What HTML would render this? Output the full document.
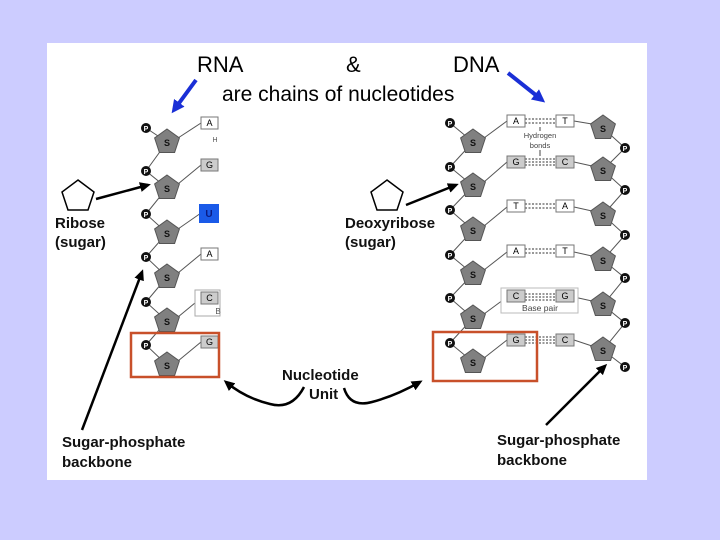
<!DOCTYPE html>
<html><head><style>
html,body{margin:0;padding:0;background:#ccccff;width:720px;height:540px;overflow:hidden}
svg{display:block}
text{font-family:"Liberation Sans",Arial,sans-serif}
</style></head><body>
<svg width="720" height="540" viewBox="0 0 720 540" xmlns="http://www.w3.org/2000/svg">
<defs>
<marker id="ab" markerWidth="11" markerHeight="10" refX="8" refY="5" orient="auto" markerUnits="userSpaceOnUse"><path d="M0,0 L11,5 L0,10 Z" fill="#000"/></marker>
<marker id="abl" markerWidth="13" markerHeight="13" refX="9" refY="6.5" orient="auto" markerUnits="userSpaceOnUse"><path d="M0,0 L13,6.5 L0,13 Z" fill="#1a2fd6"/></marker>
<g id="sg"><polygon points="0,-13 12.4,-4 7.6,10.5 -7.6,10.5 -12.4,-4" fill="#808080" stroke="#555" stroke-width="1"/><text x="0" y="4" font-size="9" font-weight="bold" text-anchor="middle" fill="#111">S</text></g>
<g id="ph"><circle r="5" fill="#111"/><text x="0" y="3" font-size="7" font-weight="bold" text-anchor="middle" fill="#fff">P</text></g>
</defs>
<rect x="47" y="43" width="600" height="437" fill="#fff"/>

<text x="197" y="72" font-size="22">RNA</text>
<text x="346" y="72" font-size="22">&amp;</text>
<text x="453" y="72" font-size="22">DNA</text>
<text x="222" y="101" font-size="21">are chains of nucleotides</text>
<line x1="196" y1="80" x2="174" y2="110" stroke="#1a2fd6" stroke-width="4" marker-end="url(#abl)"/>
<line x1="508" y1="73" x2="542" y2="100" stroke="#1a2fd6" stroke-width="4" marker-end="url(#abl)"/>

<!-- RNA chain -->
<g stroke="#555" stroke-width="1" fill="none">
<polyline points="146,128 167,142 146,171 167,188 146,214 167,233 146,257 167,277 146,302 167,321 146,345 167,365"/>
<line x1="178" y1="138" x2="201" y2="123"/><line x1="178" y1="184" x2="201" y2="165"/>
<line x1="178" y1="229" x2="201" y2="213"/><line x1="178" y1="273" x2="201" y2="254"/>
<line x1="178" y1="317" x2="201" y2="298"/><line x1="178" y1="361" x2="201" y2="342"/>
</g>
<use href="#sg" x="167" y="142"/><use href="#sg" x="167" y="188"/><use href="#sg" x="167" y="233"/>
<use href="#sg" x="167" y="277"/><use href="#sg" x="167" y="321"/><use href="#sg" x="167" y="365"/>
<use href="#ph" x="146" y="128"/><use href="#ph" x="146" y="171"/><use href="#ph" x="146" y="214"/>
<use href="#ph" x="146" y="257"/><use href="#ph" x="146" y="302"/><use href="#ph" x="146" y="345"/>
<g font-size="9" text-anchor="middle">
<rect x="201" y="117" width="17" height="12" fill="#fff" stroke="#777"/><text x="209.5" y="126">A</text>
<text x="215" y="142" font-size="7" fill="#555">H</text>
<rect x="201" y="159" width="17" height="12" fill="#ccc" stroke="#777"/><text x="209.5" y="168">G</text>
<rect x="199" y="204" width="20" height="19" fill="#1a5ae8"/><text x="209" y="217" fill="#0a1a80" font-weight="bold" font-size="10">U</text>
<rect x="201" y="248" width="17" height="12" fill="#fff" stroke="#777"/><text x="209.5" y="257">A</text>
<rect x="195" y="290" width="25" height="26" fill="#fff" stroke="#aaa"/>
<rect x="201" y="292" width="17" height="12" fill="#ccc" stroke="#777"/><text x="209.5" y="301">C</text>
<text x="218" y="314" font-size="8" fill="#555">B</text>
<rect x="201" y="336" width="17" height="12" fill="#ccc" stroke="#777"/><text x="209.5" y="345">G</text>
</g>
<rect x="131" y="333" width="88" height="44" fill="none" stroke="#c8502a" stroke-width="2.5"/>

<!-- DNA chain -->
<g stroke="#555" stroke-width="1" fill="none">
<polyline points="450,123 473,142 450,167 473,186 450,210 473,230 450,255 473,274 450,298 473,318 450,343 473,362"/>
<polyline points="603,128 625,148 603,170 625,190 603,215 625,235 603,260 625,278 603,305 625,323 603,350 625,367"/>
<line x1="484" y1="138" x2="507" y2="121"/><line x1="484" y1="182" x2="507" y2="162"/>
<line x1="484" y1="226" x2="507" y2="207"/><line x1="484" y1="270" x2="507" y2="252"/>
<line x1="484" y1="314" x2="507" y2="297"/><line x1="484" y1="358" x2="507" y2="340"/>
<line x1="574" y1="121" x2="592" y2="124"/><line x1="574" y1="162" x2="592" y2="166"/>
<line x1="574" y1="207" x2="592" y2="211"/><line x1="574" y1="252" x2="592" y2="256"/>
<line x1="574" y1="297" x2="592" y2="301"/><line x1="574" y1="340" x2="592" y2="346"/>
</g>
<rect x="501" y="288" width="77" height="25" fill="#fff" stroke="#bbb"/>
<g stroke="#333" stroke-width="1" stroke-dasharray="2,1.5">
<line x1="525" y1="119" x2="556" y2="119"/><line x1="525" y1="123" x2="556" y2="123"/>
<line x1="525" y1="159" x2="556" y2="159"/><line x1="525" y1="162" x2="556" y2="162"/><line x1="525" y1="165" x2="556" y2="165"/>
<line x1="525" y1="204" x2="556" y2="204"/><line x1="525" y1="208" x2="556" y2="208"/>
<line x1="525" y1="249" x2="556" y2="249"/><line x1="525" y1="253" x2="556" y2="253"/>
<line x1="525" y1="294" x2="556" y2="294"/><line x1="525" y1="297" x2="556" y2="297"/><line x1="525" y1="300" x2="556" y2="300"/>
<line x1="525" y1="337" x2="556" y2="337"/><line x1="525" y1="340" x2="556" y2="340"/><line x1="525" y1="343" x2="556" y2="343"/>
</g>
<g font-size="9" text-anchor="middle">
<rect x="507" y="115" width="18" height="12" fill="#fff" stroke="#777"/><text x="516" y="124">A</text>
<rect x="556" y="115" width="18" height="12" fill="#fff" stroke="#777"/><text x="565" y="124">T</text>
<rect x="507" y="156" width="18" height="12" fill="#ccc" stroke="#777"/><text x="516" y="165">G</text>
<rect x="556" y="156" width="18" height="12" fill="#ccc" stroke="#777"/><text x="565" y="165">C</text>
<rect x="507" y="200" width="18" height="12" fill="#fff" stroke="#777"/><text x="516" y="209">T</text>
<rect x="556" y="200" width="18" height="12" fill="#fff" stroke="#777"/><text x="565" y="209">A</text>
<rect x="507" y="245" width="18" height="12" fill="#fff" stroke="#777"/><text x="516" y="254">A</text>
<rect x="556" y="245" width="18" height="12" fill="#fff" stroke="#777"/><text x="565" y="254">T</text>
<rect x="507" y="290" width="18" height="12" fill="#ccc" stroke="#777"/><text x="516" y="299">C</text>
<rect x="556" y="290" width="18" height="12" fill="#ccc" stroke="#777"/><text x="565" y="299">G</text>
<rect x="507" y="334" width="18" height="12" fill="#ccc" stroke="#777"/><text x="516" y="343">G</text>
<rect x="556" y="334" width="18" height="12" fill="#ccc" stroke="#777"/><text x="565" y="343">C</text>
<text x="540" y="311" font-size="8.5" fill="#444">Base pair</text>
<text x="540" y="138" font-size="7.5" fill="#444">Hydrogen</text>
<text x="540" y="148" font-size="7.5" fill="#444">bonds</text>
</g>
<line x1="540" y1="127" x2="540" y2="131" stroke="#444"/><line x1="540" y1="150" x2="540" y2="156" stroke="#444"/>
<use href="#sg" x="473" y="142"/><use href="#sg" x="473" y="186"/><use href="#sg" x="473" y="230"/>
<use href="#sg" x="473" y="274"/><use href="#sg" x="473" y="318"/><use href="#sg" x="473" y="362"/>
<use href="#sg" x="603" y="128"/><use href="#sg" x="603" y="170"/><use href="#sg" x="603" y="215"/>
<use href="#sg" x="603" y="260"/><use href="#sg" x="603" y="305"/><use href="#sg" x="603" y="350"/>
<use href="#ph" x="450" y="123"/><use href="#ph" x="450" y="167"/><use href="#ph" x="450" y="210"/>
<use href="#ph" x="450" y="255"/><use href="#ph" x="450" y="298"/><use href="#ph" x="450" y="343"/>
<use href="#ph" x="625" y="148"/><use href="#ph" x="625" y="190"/><use href="#ph" x="625" y="235"/>
<use href="#ph" x="625" y="278"/><use href="#ph" x="625" y="323"/><use href="#ph" x="625" y="367"/>
<rect x="433" y="332" width="104" height="49" fill="none" stroke="#c8502a" stroke-width="2.5"/>

<!-- labels -->
<polygon points="78,180 94,192 88,210 68,210 62,192" fill="#fff" stroke="#000" stroke-width="1.5"/>
<polygon points="387,180 403,192 397,210 377,210 371,192" fill="#fff" stroke="#000" stroke-width="1.5"/>
<g font-size="15" font-weight="bold" fill="#111">
<text x="55" y="228">Ribose</text><text x="55" y="247">(sugar)</text>
<text x="345" y="228">Deoxyribose</text><text x="345" y="247">(sugar)</text>
<text x="282" y="380">Nucleotide</text><text x="309" y="399">Unit</text>
<text x="62" y="447">Sugar-phosphate</text><text x="62" y="467">backbone</text>
<text x="497" y="445">Sugar-phosphate</text><text x="497" y="465">backbone</text>
</g>
<g stroke="#000" stroke-width="2.5" fill="none" marker-end="url(#ab)">
<line x1="96" y1="199" x2="148" y2="185"/>
<line x1="406" y1="205" x2="456" y2="185"/>
<line x1="82" y1="430" x2="142" y2="272"/>
<line x1="546" y1="425" x2="605" y2="366"/>
<path d="M304,387 Q292,410 270,404 Q245,398 226,382"/>
<path d="M344,388 Q350,408 372,402 Q395,396 420,382"/>
</g>
</svg>
</body></html>
